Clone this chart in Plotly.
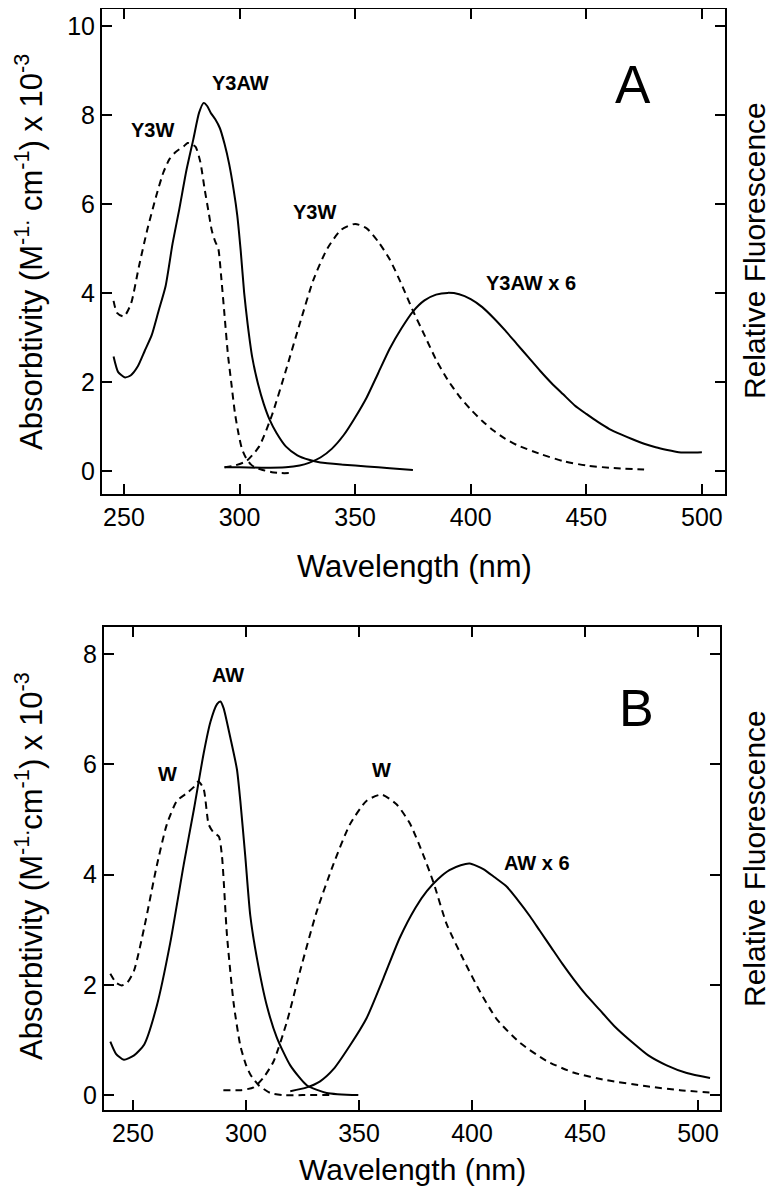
import plotly.graph_objects as go

# page adds an 8px body margin, so the figure is sized to the window minus that
PAGE_W, PAGE_H, PAD = 781, 1199, 8
W, H = PAGE_W - 2 * PAD, PAGE_H - 2 * PAD

# ── Panel A: Y3W / Y3AW ─────────────────────────────────────────────
A_Y3W_ABS_NM = [245.5, 247, 250, 253, 256.5, 260, 263.8, 267, 269.6, 272, 274, 276, 277.5, 279,
                281, 283, 285, 286.5, 288, 289.5, 290.8, 292, 293.5, 295, 296.5, 298, 299.5,
                301, 303, 305, 307, 310, 314, 318, 322]
A_Y3W_ABS = [3.82, 3.55, 3.47, 3.75, 4.6, 5.4, 6.15, 6.7, 7.0, 7.15, 7.23, 7.3, 7.37, 7.35,
             7.28, 6.95, 6.3, 5.85, 5.4, 5.15, 5.0, 4.4, 3.5, 2.6, 1.95, 1.3, 0.85,
             0.5, 0.27, 0.14, 0.07, 0.02, -0.03, -0.05, -0.05]

A_Y3AW_ABS_NM = [245.5, 247.5, 250.5, 253, 256, 259, 262, 265, 268, 271, 274, 277, 280, 282.5,
                 284.5, 286, 287.5, 289.5, 291.5, 293.5, 295.5, 297.5, 299, 300.5, 302, 303.5,
                 305.5, 308, 310.5, 313, 316, 320, 325, 330, 335, 345, 355, 365, 375]
A_Y3AW_ABS = [2.57, 2.22, 2.1, 2.15, 2.35, 2.7, 3.05, 3.6, 4.15, 5.1, 5.9, 6.75, 7.45, 8.05,
              8.27, 8.2, 8.05, 7.9, 7.7, 7.35, 6.9, 6.3, 5.75, 4.95, 4.0, 3.3,
              2.55, 1.95, 1.5, 1.15, 0.85, 0.55, 0.35, 0.25, 0.19, 0.14, 0.1, 0.06, 0.02]

A_Y3W_EM_NM = [293.5, 298, 303, 308.5, 314, 320, 326, 332, 338, 344, 350, 355, 360, 365, 370,
               375, 380, 385, 390, 395, 400, 405, 410, 415, 420, 430, 440, 450, 460, 475]
A_Y3W_EM = [0.08, 0.12, 0.22, 0.55, 1.25, 2.25, 3.3, 4.3, 5.0, 5.42, 5.55, 5.45, 5.15, 4.75, 4.2,
            3.6, 3.05, 2.5, 2.05, 1.68, 1.38, 1.12, 0.9, 0.72, 0.58, 0.38, 0.22, 0.12, 0.07, 0.03]

A_Y3AW_EM_NM = [293.5, 300, 310, 320, 326, 330, 335, 340, 345, 350, 355, 360, 365, 370, 375,
                380, 385, 390, 395, 400, 405, 410, 415, 420, 425, 430, 435, 440, 445, 450,
                455, 460, 465, 470, 475, 480, 485, 490, 495, 500]
A_Y3AW_EM = [0.08, 0.08, 0.07, 0.08, 0.12, 0.18, 0.3, 0.5, 0.8, 1.2, 1.65, 2.2, 2.75, 3.2, 3.58,
             3.83, 3.96, 4.0, 3.97, 3.86, 3.68, 3.43, 3.15, 2.85, 2.55, 2.25, 1.97, 1.72, 1.47, 1.28,
             1.1, 0.94, 0.82, 0.71, 0.61, 0.53, 0.47, 0.42, 0.41, 0.42]

# ── Panel B: W / AW ─────────────────────────────────────────────────
B_W_ABS_NM = [240, 242.5, 245, 247.5, 250.5, 255, 260.5, 265, 269.5, 274, 277, 279, 281.3, 283.5,
              285.7, 288, 289.4, 291.6, 294.6, 297.5, 300, 302, 305.6, 310.7, 316.6, 325, 338]
B_W_ABS = [2.2, 2.04, 1.99, 2.04, 2.26, 3.04, 4.15, 4.91, 5.34, 5.48, 5.59, 5.69, 5.55, 4.91,
           4.76, 4.69, 4.33, 2.9, 1.65, 0.9, 0.55, 0.37, 0.18, 0.04, 0.0, 0.0, 0.0]

B_AW_ABS_NM = [240, 242.5, 246, 250.5, 255, 260.5, 266.5, 272.5, 277, 281.3, 284.3, 287.2, 288.7,
               290.1, 293.1, 296, 297.5, 299.7, 301.9, 304.9, 309.3, 313.7, 319.6, 326.9, 335.7, 349.7]
B_AW_ABS = [0.97, 0.75, 0.64, 0.72, 0.92, 1.61, 2.76, 4.19, 5.19, 6.2, 6.77, 7.09, 7.14,
            7.02, 6.48, 5.91, 5.34, 4.33, 3.26, 2.47, 1.61, 1.04, 0.54, 0.18, 0.04, 0.0]

B_W_EM_NM = [290, 297.5, 303.4, 307.8, 312.2, 318.1, 324, 331.3, 338.7, 346, 353.4, 360, 366.7,
             372.6, 378.5, 383, 388.8, 396.2, 403.5, 410.9, 421.2, 433, 444.8, 459.6, 477.3, 492, 507]
B_W_EM = [0.09, 0.09, 0.14, 0.32, 0.61, 1.33, 2.26, 3.33, 4.19, 4.91, 5.34, 5.45, 5.27,
          4.92, 4.35, 3.85, 3.1, 2.46, 1.88, 1.38, 0.95, 0.62, 0.41, 0.27, 0.16, 0.09, 0.04]

B_AW_EM_NM = [319.6, 326.9, 332.8, 338.7, 346, 353.4, 360.7, 368, 375, 380, 385, 390, 395,
              399, 405, 410, 415.4, 420, 425.7, 430, 435, 440, 445, 450, 456.6, 463, 471.4,
              478, 486.1, 495, 505.3]
B_AW_EM = [0.07, 0.14, 0.25, 0.47, 0.9, 1.4, 2.11, 2.85, 3.4, 3.7, 3.92, 4.08, 4.17,
           4.2, 4.1, 3.95, 3.78, 3.55, 3.24, 2.98, 2.68, 2.38, 2.1, 1.84, 1.54, 1.25, 0.94,
           0.72, 0.54, 0.4, 0.31]

X_TICKS = [250, 300, 350, 400, 450, 500]
A_Y_TICKS = [0, 2, 4, 6, 8, 10]
B_Y_TICKS = [0, 2, 4, 6, 8]

FONT = "Liberation Sans, Arial, sans-serif"
SOLID = dict(color="black", width=2)
DASHED = dict(color="black", width=2, dash="7px,5px")


def px_x(x):
    return min(max((x - PAD) / W, 0), 1)


def px_y(y):
    return min(max(1 - (y - PAD) / H, 0), 1)


fig = go.Figure()

for xs, ys, line, ax in [
    (A_Y3W_ABS_NM, A_Y3W_ABS, DASHED, 1),
    (A_Y3AW_ABS_NM, A_Y3AW_ABS, SOLID, 1),
    (A_Y3W_EM_NM, A_Y3W_EM, DASHED, 1),
    (A_Y3AW_EM_NM, A_Y3AW_EM, SOLID, 1),
    (B_W_ABS_NM, B_W_ABS, DASHED, 2),
    (B_AW_ABS_NM, B_AW_ABS, SOLID, 2),
    (B_W_EM_NM, B_W_EM, DASHED, 2),
    (B_AW_EM_NM, B_AW_EM, SOLID, 2),
]:
    fig.add_trace(go.Scatter(
        x=xs, y=ys, mode="lines", line=dict(shape="spline", smoothing=0.6, **line),
        xaxis="x" if ax == 1 else "x2", yaxis="y" if ax == 1 else "y2",
        showlegend=False, hoverinfo="skip",
    ))

axis_common = dict(
    showline=True, linecolor="black", linewidth=2, mirror="ticks",
    ticks="inside", ticklen=10, tickwidth=2, tickcolor="black",
    showgrid=False, zeroline=False,
    tickfont=dict(family=FONT, size=25, color="black"),
)

# panel A top frame sits at y=9 on the page (can't go above the body margin);
# range top chosen so 10 still lands at y=26 (44.5 px per unit)
fig.update_layout(
    width=W, height=H,
    margin=dict(l=0, r=0, t=0, b=0),
    paper_bgcolor="white", plot_bgcolor="white",
    xaxis=dict(domain=[px_x(102), px_x(725)], range=[240.5, 510], tickvals=X_TICKS,
               anchor="y", **axis_common),
    yaxis=dict(domain=[px_y(494), px_y(9)], range=[-0.52, 10.38], tickvals=A_Y_TICKS,
               anchor="x", **axis_common),
    xaxis2=dict(domain=[px_x(104), px_x(720)], range=[237.2, 509.7], tickvals=X_TICKS,
                anchor="y2", **axis_common),
    yaxis2=dict(domain=[px_y(1110), px_y(627)], range=[-0.27, 8.49], tickvals=B_Y_TICKS,
                anchor="x2", **axis_common),
)

ann = []


def text(x, y, s, size, angle=0, bold=False):
    ann.append(dict(
        x=px_x(x), y=px_y(y), xref="paper", yref="paper", text=f"<b>{s}</b>" if bold else s,
        showarrow=False, textangle=angle, xanchor="center", yanchor="middle",
        font=dict(family=FONT, size=size, color="black"),
    ))


# axis titles
text(414, 566, "Wavelength (nm)", 31)
text(412, 1169, "Wavelength (nm)", 30)
text(29, 252, "Absorbtivity (M<sup>-1.</sup> cm<sup>-1</sup>) x 10<sup>-3</sup>", 31, angle=-90)
text(29, 866, "Absorbtivity (M<sup>-1.</sup>cm<sup>-1</sup>) x 10<sup>-3</sup>", 31, angle=-90)
text(755, 251, "Relative Fluorescence", 30, angle=-90)
text(755, 859, "Relative Fluorescence", 30, angle=-90)

# panel letters
text(633, 84, "A", 53)
text(636, 708, "B", 52)

# curve labels
text(241, 83, "Y3AW", 20, bold=True)
text(152, 130, "Y3W", 20, bold=True)
text(314, 212, "Y3W", 20, bold=True)
text(531, 283, "Y3AW x 6", 20, bold=True)
text(228, 675, "AW", 20, bold=True)
text(167, 774, "W", 20, bold=True)
text(381, 770, "W", 20, bold=True)
text(537, 863, "AW x 6", 20, bold=True)

fig.update_layout(annotations=ann)

fig.write_html("out.html")
